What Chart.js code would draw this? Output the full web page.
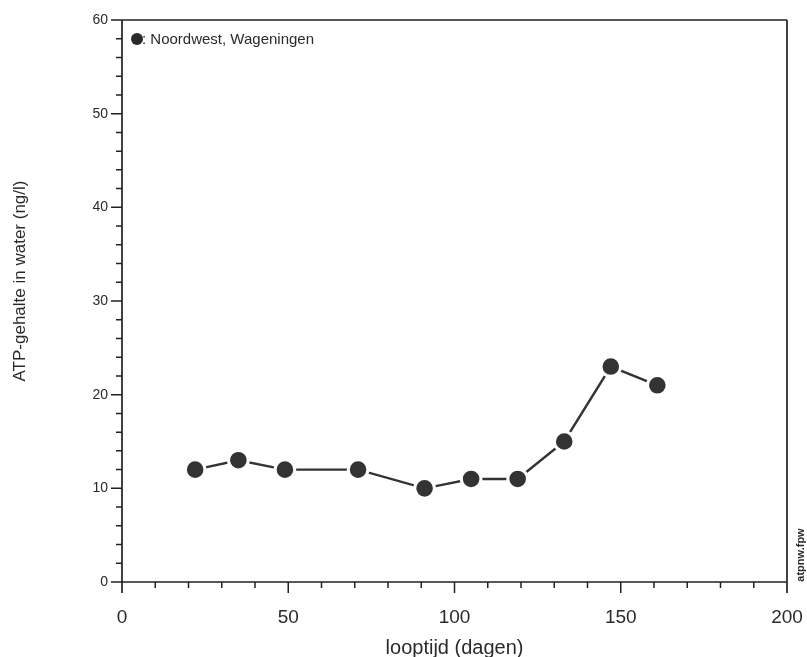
<!DOCTYPE html>
<html>
<head>
<meta charset="utf-8">
<script src="https://cdn.jsdelivr.net/npm/chart.js@4/dist/chart.umd.min.js"></script>
<style>
  html, body { margin: 0; padding: 0; background: #fff; }
  #wrap { width: 807px; height: 657px; }
</style>
</head>
<body>
<div id="wrap"><canvas id="myChart" width="807" height="657"></canvas></div>
<script>
// looptijd (dagen) and ATP-gehalte (ng/l), Noordwest Wageningen
const days = [22, 35, 49, 71, 91, 105, 119, 133, 147, 161];
const atp = [12, 13, 12, 12, 10, 11, 11, 15, 23, 21];
const xTickLabels = [0, 50, 100, 150, 200];
const yTickLabels = [0, 10, 20, 30, 40, 50, 60];
const seriesLabel = ': Noordwest, Wageningen';
const yTitle = 'ATP-gehalte in water (ng/l)';
const xTitle = 'looptijd (dagen)';
const fileTag = 'atpnw.fpw';

const ink = '#222';
const textInk = '#2a2a2a';
const FONT = "'Liberation Sans', Arial, sans-serif";

// frame, minor/major tick marks, legend, y title and file tag
const framePlugin = {
    id: 'frame',
    afterDraw(chart) {
        const ctx = chart.ctx;
        const xs = chart.scales.x;
        const ys = chart.scales.y;
        const left = xs.getPixelForValue(0);
        const right = xs.getPixelForValue(200);
        const top = ys.getPixelForValue(60);
        const bottom = ys.getPixelForValue(0);
        ctx.save();
        ctx.strokeStyle = ink;
        ctx.lineWidth = 1.7;
        ctx.beginPath();
        ctx.moveTo(left, top);
        ctx.lineTo(right, top);
        ctx.moveTo(left, top);
        ctx.lineTo(left, bottom + 11);
        ctx.moveTo(left, bottom);
        ctx.lineTo(right, bottom);
        ctx.moveTo(right, top);
        ctx.lineTo(right, bottom + 11);
        ctx.stroke();

        // x ticks every 10 days, longer at every 50
        ctx.lineWidth = 1.5;
        ctx.beginPath();
        for (let v = 10; v < 200; v += 10) {
            const px = xs.getPixelForValue(v);
            const len = v % 50 === 0 ? 11 : 6;
            ctx.moveTo(px, bottom);
            ctx.lineTo(px, bottom + len);
        }
        // y ticks every 2, longer at every 10
        for (let v = 0; v <= 60; v += 2) {
            const py = ys.getPixelForValue(v);
            const len = v % 10 === 0 ? 11 : 6;
            ctx.moveTo(left - len, py);
            ctx.lineTo(left, py);
        }
        ctx.stroke();

        // legend
        ctx.fillStyle = textInk;
        ctx.beginPath();
        ctx.arc(left + 15, top + 19, 6, 0, Math.PI * 2);
        ctx.fill();
        ctx.font = '15px ' + FONT;
        ctx.textBaseline = 'middle';
        ctx.textAlign = 'left';
        ctx.fillText(seriesLabel, left + 20, top + 20);

        // y axis title
        ctx.save();
        ctx.translate(20, 281);
        ctx.rotate(-Math.PI / 2);
        ctx.font = '17px ' + FONT;
        ctx.textAlign = 'center';
        ctx.fillText(yTitle, 0, 0);
        ctx.restore();

        // file tag, rotated on the right
        ctx.translate(right + 14, bottom - 27);
        ctx.rotate(-Math.PI / 2);
        ctx.font = 'bold 11px ' + FONT;
        ctx.textAlign = 'center';
        ctx.fillText(fileTag, 0, 0);
        ctx.restore();
    }
};

const ctx = document.getElementById('myChart').getContext('2d');
const chart = new Chart(ctx, {
    type: 'scatter',
    data: {
        datasets: [{
            label: seriesLabel,
            data: days.map((d, i) => ({ x: d, y: atp[i] })),
            showLine: true,
            borderColor: '#333',
            borderWidth: 2.4,
            pointRadius: 9.8,
            pointBorderWidth: 3,
            pointBackgroundColor: '#333',
            pointBorderColor: '#fff',
            pointHoverRadius: 9.8
        }]
    },
    options: {
        responsive: false,
        animation: false,
        layout: { padding: { top: 20, right: 20, left: 0, bottom: 0 } },
        plugins: {
            legend: { display: false },
            tooltip: { enabled: false }
        },
        scales: {
            x: {
                type: 'linear',
                min: 0,
                max: 200,
                afterFit: (scale) => {
                    scale.height = 75;
                    scale.paddingLeft = 0;
                    scale.paddingRight = 0;
                },
                afterBuildTicks: (scale) => { scale.ticks = xTickLabels.map(v => ({ value: v })); },
                border: { display: false },
                grid: { display: false, drawTicks: true, tickLength: 11 },
                ticks: {
                    padding: 13,
                    color: textInk,
                    font: { family: FONT, size: 19 },
                    maxRotation: 0
                },
                title: {
                    display: true,
                    text: xTitle,
                    color: textInk,
                    padding: { top: 0, bottom: -3 },
                    font: { family: FONT, size: 20 }
                }
            },
            y: {
                type: 'linear',
                min: 0,
                max: 60,
                afterFit: (scale) => {
                    scale.width = 122;
                    scale.paddingTop = 0;
                    scale.paddingBottom = 0;
                },
                afterBuildTicks: (scale) => { scale.ticks = yTickLabels.map(v => ({ value: v })); },
                border: { display: false },
                grid: { display: false, drawTicks: true, tickLength: 11 },
                ticks: {
                    padding: 3,
                    color: textInk,
                    font: { family: FONT, size: 14 }
                }
            }
        }
    },
    plugins: [framePlugin]
});
</script>
</body>
</html>
